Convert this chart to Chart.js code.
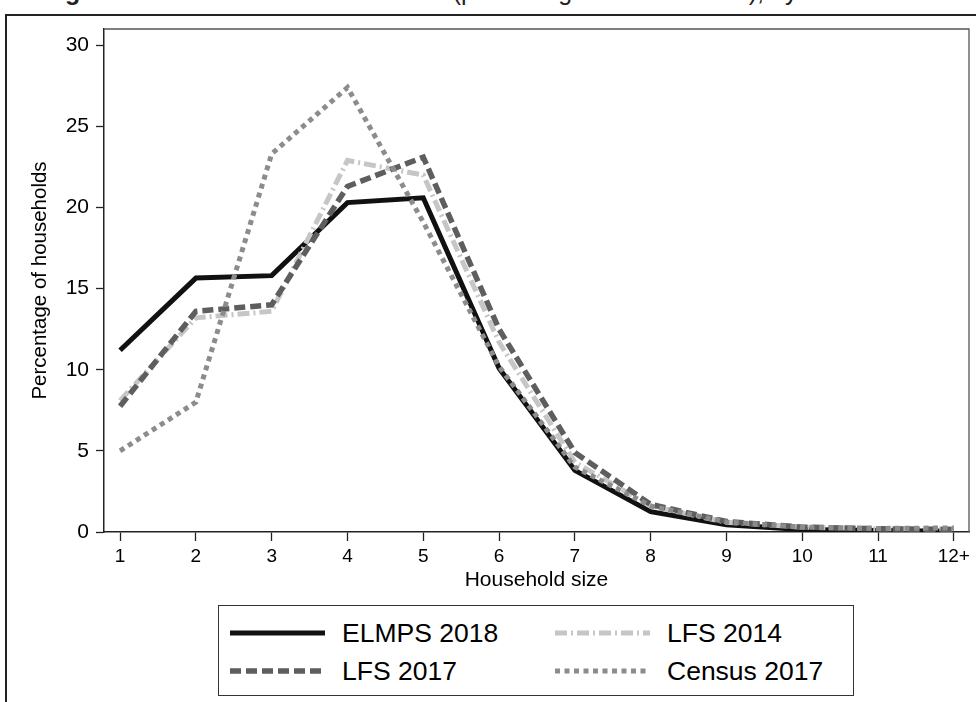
<!DOCTYPE html>
<html lang="en">
<head>
<meta charset="UTF-8">
<title>Household size by data source</title>
<script src="https://cdn.jsdelivr.net/npm/chart.js"></script>
<style>
  body {
    margin: 0;
    width: 976px;
    height: 702px;
    overflow: hidden;
    position: relative;
    background: #fff;
    font-family: "Liberation Sans", Arial, sans-serif;
  }
  .caption {
    position: absolute;
    right: 41px;
    top: -21px;
    font-size: 25px;
    line-height: 25px;
    white-space: nowrap;
    color: #222;
  }
  .frame {
    position: absolute;
    left: 5px;
    top: 14px;
    width: 1000px;
    height: 720px;
    border-left: 2.5px solid #222;
    border-top: 2.5px solid #222;
  }
  #grafico {
    position: absolute;
    left: 0;
    top: 0;
  }
  .legend {
    position: absolute;
    left: 218px;
    top: 605px;
    width: 634px;
    height: 89px;
    border: 1.5px solid #333;
    background: #fff;
  }
  .item {
    position: absolute;
    height: 36px;
    display: flex;
    align-items: center;
    font-size: 26.5px;
    color: #000;
    white-space: nowrap;
  }
  .item canvas {
    margin-right: 17px;
  }
</style>
</head>
<body>
<div class="caption"><b>Figure 3</b> Household size distribution (percentage of households), by data source</div>
<div class="frame"></div>
<canvas id="grafico" width="976" height="600"></canvas>
<div class="legend" id="leyenda"></div>

<script>
  // household size categories (x axis)
  const sizes = ['1', '2', '3', '4', '5', '6', '7', '8', '9', '10', '11', '12+'];
  const yTicks = [0, 5, 10, 15, 20, 25, 30];

  // percentage of households per size, by source
  const elmps2018 = [11.2, 15.65, 15.8, 20.3, 20.6, 10.1, 3.8, 1.25, 0.45, 0.15, 0.1, 0.05];
  const lfs2014 = [8.1, 13.2, 13.6, 22.9, 22.0, 11.7, 4.3, 1.6, 0.6, 0.3, 0.2, 0.2];
  const lfs2017 = [7.75, 13.6, 14.0, 21.3, 23.1, 12.5, 4.9, 1.7, 0.65, 0.3, 0.2, 0.15];
  const census2017 = [5.0, 8.0, 23.3, 27.4, 19.1, 10.2, 4.0, 1.6, 0.62, 0.3, 0.22, 0.25];

  const fam = '"Liberation Sans", Arial, sans-serif';
  const toPoints = arr => arr.map((v, i) => ({ x: i + 1, y: v }));

  // top and right edge of the plot region
  const plotFrame = {
    id: 'plotFrame',
    beforeDatasetsDraw(chart) {
      const { ctx, chartArea: a } = chart;
      ctx.save();
      ctx.strokeStyle = '#555';
      ctx.lineWidth = 1.3;
      ctx.beginPath();
      ctx.moveTo(a.left, a.top);
      ctx.lineTo(a.right, a.top);
      ctx.lineTo(a.right, a.bottom);
      ctx.stroke();
      ctx.restore();
    }
  };

  const ctx = document.getElementById('grafico').getContext('2d');
  const myChart = new Chart(ctx, {
    type: 'line',
    data: {
      datasets: [{
        label: 'ELMPS 2018',
        data: toPoints(elmps2018),
        borderColor: '#111',
        borderWidth: 5,
        borderDash: [],
        order: 3
      }, {
        label: 'LFS 2014',
        data: toPoints(lfs2014),
        borderColor: '#c6c6c6',
        borderWidth: 5,
        borderDash: [12, 4, 2, 4],
        order: 2
      }, {
        label: 'LFS 2017',
        data: toPoints(lfs2017),
        borderColor: '#5e5e5e',
        borderWidth: 5.5,
        borderDash: [11, 5],
        order: 1
      }, {
        label: 'Census 2017',
        data: toPoints(census2017),
        borderColor: '#8c8c8c',
        borderWidth: 5,
        borderDash: [5, 4.5],
        order: 0
      }]
    },
    options: {
      responsive: false,
      animation: false,
      elements: {
        point: { radius: 0 },
        line: { tension: 0, fill: false, borderCapStyle: 'butt' }
      },
      layout: { padding: { top: 29, right: 7, left: 0, bottom: 0 } },
      plugins: {
        legend: { display: false },
        tooltip: { enabled: false }
      },
      scales: {
        x: {
          type: 'linear',
          min: 0.788,
          max: 12.2,
          afterBuildTicks: s => { s.ticks = sizes.map((_, i) => ({ value: i + 1 })); },
          afterFit: s => { s.height = 68; },
          ticks: {
            callback: v => sizes[v - 1],
            font: { size: 19, family: fam },
            color: '#000',
            padding: 4,
            maxRotation: 0,
            autoSkip: false
          },
          grid: { drawOnChartArea: false, tickLength: 9, tickColor: '#222', tickWidth: 1.3 },
          border: { color: '#222', width: 1.5 },
          title: {
            display: true,
            text: 'Household size',
            font: { size: 21, family: fam },
            color: '#000',
            padding: { top: 0, bottom: 7 }
          }
        },
        y: {
          min: 0,
          max: 31,
          afterBuildTicks: s => { s.ticks = yTicks.map(v => ({ value: v })); },
          afterFit: s => { s.width = 104; },
          ticks: {
            font: { size: 21, family: fam },
            color: '#000',
            padding: 7
          },
          grid: { drawOnChartArea: false, tickLength: 8, tickColor: '#222', tickWidth: 1.3 },
          border: { color: '#222', width: 1.5 },
          title: {
            display: true,
            text: 'Percentage of households',
            font: { size: 20.5, family: fam },
            color: '#000',
            padding: { top: 28, bottom: 0 }
          }
        }
      }
    },
    plugins: [plotFrame]
  });

  // legend box, 2 columns x 2 rows, built from the datasets
  const leyenda = document.getElementById('leyenda');
  const colLeft = [11, 336];
  const rowMid = [27, 65];
  myChart.data.datasets.forEach((ds, i) => {
    const item = document.createElement('div');
    item.className = 'item';
    item.style.left = colLeft[i % 2] + 'px';
    item.style.top = (rowMid[Math.floor(i / 2)] - 18) + 'px';
    const c = document.createElement('canvas');
    c.width = 95;
    c.height = 10;
    const g = c.getContext('2d');
    g.strokeStyle = ds.borderColor;
    g.lineWidth = ds.borderWidth;
    g.setLineDash(ds.borderDash);
    g.beginPath();
    g.moveTo(0, 5);
    g.lineTo(95, 5);
    g.stroke();
    item.appendChild(c);
    const t = document.createElement('span');
    t.textContent = ds.label;
    item.appendChild(t);
    leyenda.appendChild(item);
  });
</script>
</body>
</html>
